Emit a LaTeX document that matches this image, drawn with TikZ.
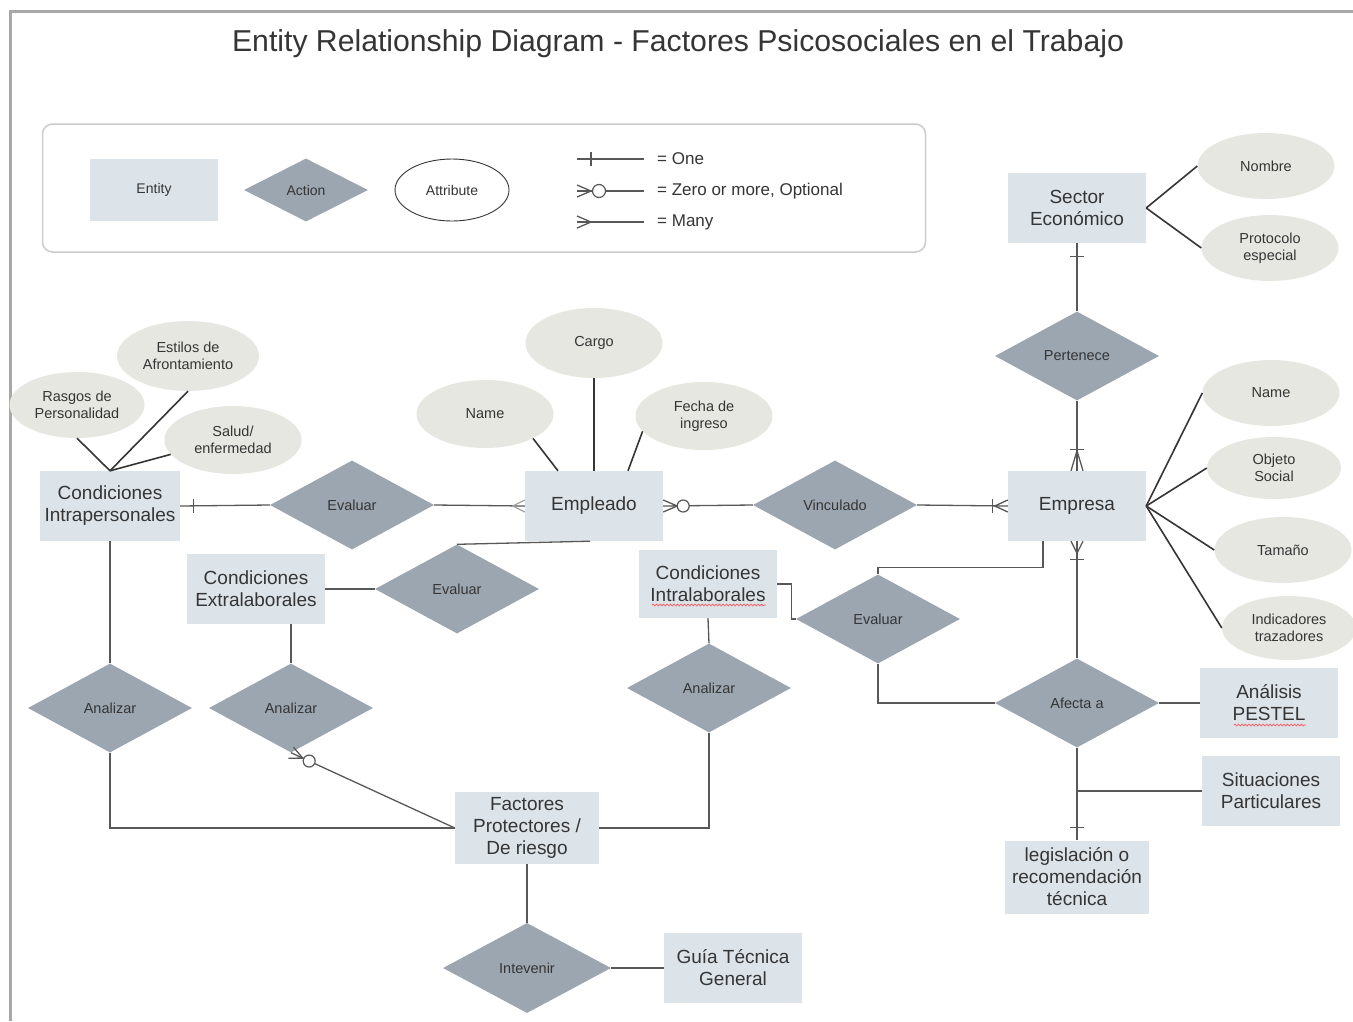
\documentclass[tikz,border=0pt]{standalone}
\usepackage{fontspec}
\setmainfont{Liberation Sans}
\usetikzlibrary{shapes.geometric,calc,decorations.pathmorphing}
\definecolor{entfill}{HTML}{DCE3E9}
\definecolor{actfill}{HTML}{9CA6B1}
\definecolor{attfill}{HTML}{E7E7E1}
\definecolor{linecol}{HTML}{585858}
\definecolor{txtcol}{HTML}{353535}
\definecolor{framecol}{HTML}{A8A8A8}

\begin{document}
\begin{tikzpicture}[x=1pt,y=-1pt,
  ent/.style={rectangle, fill=entfill, minimum width=138, minimum height=70, inner sep=0,
    align=center, text=txtcol, font=\fontsize{19}{22}\selectfont},
  act/.style={diamond, fill=actfill, minimum width=164, minimum height=89, inner sep=0,
    text=txtcol, font=\fontsize{14.5}{17}\selectfont},
  att/.style={ellipse, fill=attfill, minimum width=137, minimum height=66, inner sep=0,
    align=center, text=txtcol, font=\fontsize{14.5}{17}\selectfont},
  conn/.style={draw=linecol, line width=1.3},
  attline/.style={draw=txtcol, line width=1.6},
  legtxt/.style={text=txtcol, font=\fontsize{17}{19}\selectfont, inner sep=0},
  opt/.style={draw=linecol, fill=white, line width=1.2},
  spell/.style={draw=red!65, line width=0.7, decorate,
    decoration={snake, amplitude=0.9, segment length=3.5}}
]
\useasboundingbox (0,0) rectangle (1353,1021);
\fill[white] (0,0) rectangle (1353,1021);
\draw[framecol, line width=3] (10,1021) -- (10,11) -- (1353,11);

% title
\node[text=txtcol, font=\fontsize{30.2}{33}\selectfont] (title) at (678,44)
  {Entity Relationship Diagram - Factores Psicosociales en el Trabajo};

% legend
\node[draw=gray!40, line width=1.5, rounded corners=10, minimum width=883,
  minimum height=128, inner sep=0] (legend) at (484,188) {};
\node[ent, minimum width=128, minimum height=62, font=\fontsize{14}{16}\selectfont] (lgEnt) at (154,190) {Entity};
\node[act, minimum width=124, minimum height=63, font=\fontsize{14}{16}\selectfont] (lgAct) at (306,190) {Action};
\node[ellipse, draw=txtcol, fill=white, line width=0.9, minimum width=114, minimum height=62,
  inner sep=0, text=txtcol, font=\fontsize{14}{16}\selectfont] (lgAtt) at (452,190) {Attribute};

\coordinate (oneA) at (577,159); \coordinate (oneB) at (644,159);
\coordinate (zeroA) at (577,191); \coordinate (zeroB) at (644,191);
\coordinate (manyA) at (577,222); \coordinate (manyB) at (644,222);
\draw[conn] (oneA) -- (oneB);
\draw[conn] ($(oneA)+(14,-7)$) -- ++(0,14);
\draw[conn] (zeroA) -- (zeroB);
\draw[conn] ($(zeroA)+(0,-6)$) -- ($(zeroA)+(14,0)$) -- ($(zeroA)+(0,6)$);
\draw[opt] ($(zeroA)+(22,0)$) circle[radius=6.5];
\draw[conn] (manyA) -- (manyB);
\draw[conn] ($(manyA)+(0,-6)$) -- ($(manyA)+(14,0)$) -- ($(manyA)+(0,6)$);
\node[legtxt, anchor=west] (lgOne) at (657,159) {= One};
\node[legtxt, anchor=west] (lgZero) at (657,191) {= Zero or more, Optional};
\node[legtxt, anchor=west] (lgMany) at (657,222) {= Many};

% entities
\node[ent] (sector) at (1077,208) {Sector\\Económico};
\node[ent] (empresa) at (1077,506) {Empresa};
\node[ent] (empleado) at (594,506) {Empleado};
\node[ent, minimum width=140] (intra) at (110,506) {Condiciones\\Intrapersonales};
\node[ent] (extra) at (256,589) {Condiciones\\Extralaborales};
\node[ent, minimum height=68] (intral) at (708,584) {Condiciones\\Intralaborales};
\node[ent, minimum width=144, minimum height=72] (fact) at (527,828) {Factores\\Protectores /\\De riesgo};
\node[ent] (guia) at (733,968) {Guía Técnica\\General};
\node[ent] (pestel) at (1269,703) {Análisis\\PESTEL};
\node[ent] (situ) at (1271,791) {Situaciones\\Particulares};
\node[ent, minimum width=144, minimum height=73] (legis) at (1077,877) {legislación o\\recomendación\\técnica};

% actions
\node[act] (pert) at (1077,356) {Pertenece};
\node[act] (evalL) at (352,505) {Evaluar};
\node[act] (vinc) at (835,505) {Vinculado};
\node[act] (evalM) at (457,589) {Evaluar};
\node[act] (evalR) at (878,619) {Evaluar};
\node[act] (anaL) at (110,708) {Analizar};
\node[act] (anaM) at (291,708) {Analizar};
\node[act] (anaR) at (709,688) {Analizar};
\node[act] (afecta) at (1077,703) {Afecta a};
\node[act, minimum width=168, minimum height=90] (intev) at (527,968) {Intevenir};

% attributes
\node[att] (nombre) at (1266,166) {Nombre};
\node[att] (proto) at (1270,248) {Protocolo\\especial};
\node[att] (nameE) at (1271,393) {Name};
\node[att, minimum width=134, minimum height=62] (objeto) at (1274,468) {Objeto\\Social};
\node[att] (tamano) at (1283,550) {Tamaño};
\node[att, minimum width=134, minimum height=64] (indic) at (1289,628) {Indicadores\\trazadores};
\node[att, minimum height=70] (cargo) at (594,343) {Cargo};
\node[att, minimum height=68] (nameP) at (485,414) {Name};
\node[att, minimum height=68] (fecha) at (704,416) {Fecha de\\ingreso};
\node[att, minimum width=135] (rasgos) at (77,405) {Rasgos de\\Personalidad};
\node[att, minimum width=142, minimum height=70] (estilos) at (188,356) {Estilos de\\Afrontamiento};
\node[att, minimum height=68] (salud) at (233,440) {Salud/\\enfermedad};

% spell-check underlines
\draw[spell] (652,605) -- (766,605);
\draw[spell] (1234,725) -- (1306,725);

% attribute links
\draw[attline] (sector.east) -- (nombre.west);
\draw[attline] (sector.east) -- (proto.west);
\draw[attline] (empresa.east) -- (nameE.west);
\draw[attline] (empresa.east) -- (objeto.west);
\draw[attline] (empresa.east) -- (tamano.west);
\draw[attline] (empresa.east) -- (indic.west);
\draw[attline] (cargo.south) -- (empleado.north);
\draw[attline] (nameP.-27) -- ($(empleado.north)+(-36,0)$);
\draw[attline] (fecha.-166) -- ($(empleado.north)+(34,0)$);
\draw[attline] (rasgos.south) -- (intra.north);
\draw[attline] (estilos.south) -- (intra.north);
\draw[attline] (salud.-167) -- (intra.north);

% relationship links
\draw[conn] (intra.east) -- (evalL.west);
\draw[conn] ($(intra.east)+(13,-7)$) -- ++(0,14);

\draw[conn] (evalL.east) -- (empleado.west);
\draw[draw=linecol!55, line width=1.2] ($(empleado.west)+(0,-6)$) -- ($(empleado.west)+(-12,0)$) -- ($(empleado.west)+(0,6)$);

\draw[conn] (empleado.east) -- (vinc.west);
\draw[conn] ($(empleado.east)+(0,-6)$) -- ($(empleado.east)+(14,0)$) -- ($(empleado.east)+(0,6)$);
\draw[opt] ($(empleado.east)+(20,0)$) circle[radius=6];

\draw[conn] (vinc.east) -- (empresa.west);
\draw[conn] ($(empresa.west)+(-15,-7)$) -- ++(0,14);
\draw[conn] ($(empresa.west)+(0,-6)$) -- ($(empresa.west)+(-13,0)$) -- ($(empresa.west)+(0,6)$);

\draw[conn] (sector.south) -- (pert.north);
\draw[conn] ($(sector.south)+(-7,13)$) -- ++(14,0);

\draw[conn] (pert.south) -- (empresa.north);
\draw[conn] ($(empresa.north)+(-7,-21)$) -- ++(14,0);
\draw[conn] ($(empresa.north)+(-6,0)$) -- ($(empresa.north)+(0,-20)$) -- ($(empresa.north)+(6,0)$);

\draw[conn] (empresa.south) -- (afecta.north);
\draw[conn] ($(empresa.south)+(-6,0)$) -- ($(empresa.south)+(0,12)$) -- ($(empresa.south)+(6,0)$);
\draw[conn] ($(empresa.south)+(-7,18)$) -- ++(14,0);

\draw[conn] (afecta.south) -- (legis.north);
\draw[conn] ($(legis.north)+(-7,-13)$) -- ++(14,0);
\draw[conn] (situ.west) -- (afecta.south |- situ.west);
\draw[conn] (afecta.east) -- (pestel.west);

\draw[conn] ($(empresa.south)+(-34,0)$) |- ($(evalR.north)+(0,-7)$) -- (evalR.north);
\draw[conn] (evalR.south) |- (afecta.west);
\draw[conn] (intral.east) -- ++(14,0) |- (evalR.west);

\draw[conn] (intral.south) -- (anaR.north);
\draw[conn] (anaR.south) |- (fact.east);

\draw[conn] (intra.south) -- (anaL.north);
\draw[conn] (anaL.south) |- (fact.west);

\draw[conn] (anaM.north |- extra.south) -- (anaM.north);
\draw[conn] (extra.east) -- (evalM.west);
\draw[conn] (evalM.north) -- ($(empleado.south)+(-4,0)$);

\draw[conn] (anaM.south) -- (fact.west);
\draw[conn] ($(anaM.south)!6pt!90:(fact.west)$) -- ($(anaM.south)!13pt!(fact.west)$) -- ($(anaM.south)!6pt!-90:(fact.west)$);
\draw[opt] ($(anaM.south)!20pt!(fact.west)$) circle[radius=6];

\draw[conn] (fact.south) -- (intev.north);
\draw[conn] (intev.east) -- (guia.west);
\end{tikzpicture}
\end{document}
